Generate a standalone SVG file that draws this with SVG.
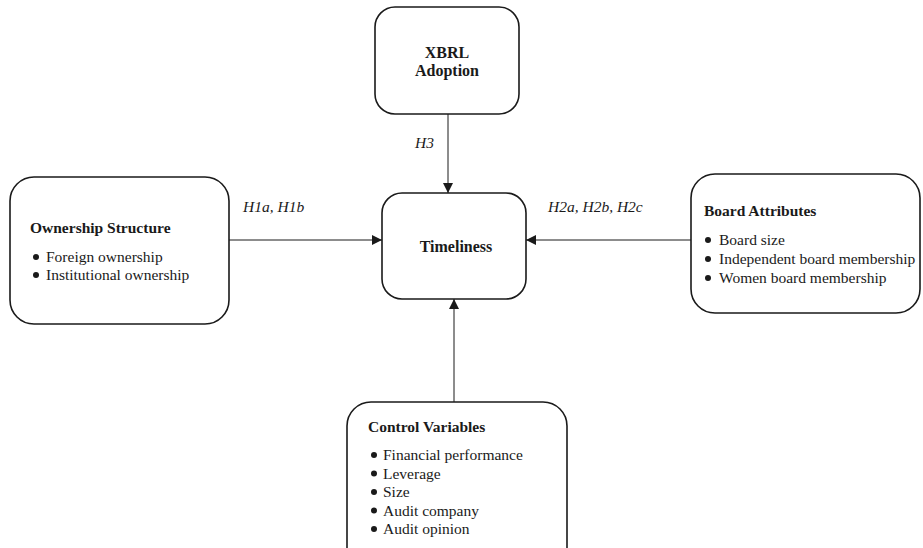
<svg xmlns="http://www.w3.org/2000/svg" width="923" height="548" viewBox="0 0 923 548">
<defs>
<marker id="arr" viewBox="0 0 10 10" refX="10" refY="5" markerWidth="10" markerHeight="10" markerUnits="userSpaceOnUse" orient="auto">
<path d="M0,0 L10,5 L0,10 z" fill="#1a1a1a"/>
</marker>
<style>
.box{fill:#fff;stroke:#1a1a1a;stroke-width:1.6}
.t{font-family:"Liberation Serif","Times New Roman",serif;fill:#1a1a1a}
.h{font-weight:bold;font-size:15.5px}
.ti{font-weight:bold;font-size:16px}
.i{font-size:15.5px}
.lab{font-style:italic;font-size:15.5px}
.con{stroke:#1a1a1a;stroke-width:1;fill:none;marker-end:url(#arr)}
.b{fill:#1a1a1a}
</style>
</defs>
<rect width="923" height="548" fill="#fff"/>
<g id="connectors">
<line class="con" x1="448" y1="114" x2="448" y2="193"/>
<line class="con" x1="229" y1="240" x2="382" y2="240"/>
<line class="con" x1="691" y1="240" x2="526" y2="240"/>
<line class="con" x1="454" y1="402" x2="454" y2="299"/>
<text class="t lab" x="415" y="148">H3</text>
<text class="t lab" x="243" y="212">H1a, H1b</text>
<text class="t lab" x="548" y="212">H2a, H2b, H2c</text>
</g>
<g id="xbrl">
<rect class="box" x="375" y="7" width="144" height="107" rx="20"/>
<text class="t ti" x="447" y="58" text-anchor="middle">XBRL</text>
<text class="t ti" x="447" y="76" text-anchor="middle">Adoption</text>
</g>
<g id="timeliness">
<rect class="box" x="382" y="193" width="144" height="106" rx="20"/>
<text class="t ti" x="456" y="252" text-anchor="middle">Timeliness</text>
</g>
<g id="ownership">
<rect class="box" x="10" y="177" width="219" height="147" rx="24"/>
<text class="t h" x="30" y="233">Ownership Structure</text>
<circle class="b" cx="36" cy="257" r="3"/>
<text class="t i" x="46" y="262">Foreign ownership</text>
<circle class="b" cx="36" cy="275" r="3"/>
<text class="t i" x="46" y="280">Institutional ownership</text>
</g>
<g id="board">
<rect class="box" x="691" y="174" width="229" height="139" rx="24"/>
<text class="t h" x="704" y="216">Board Attributes</text>
<circle class="b" cx="708" cy="240" r="3"/>
<text class="t i" x="719" y="245">Board size</text>
<circle class="b" cx="708" cy="259" r="3"/>
<text class="t i" x="719" y="264">Independent board membership</text>
<circle class="b" cx="708" cy="278" r="3"/>
<text class="t i" x="719" y="283">Women board membership</text>
</g>
<g id="control">
<rect class="box" x="347" y="402" width="220" height="170" rx="24"/>
<text class="t h" x="368" y="432">Control Variables</text>
<circle class="b" cx="374" cy="455" r="3"/>
<text class="t i" x="383" y="460">Financial performance</text>
<circle class="b" cx="374" cy="473.5" r="3"/>
<text class="t i" x="383" y="478.5">Leverage</text>
<circle class="b" cx="374" cy="492" r="3"/>
<text class="t i" x="383" y="497">Size</text>
<circle class="b" cx="374" cy="510.5" r="3"/>
<text class="t i" x="383" y="515.5">Audit company</text>
<circle class="b" cx="374" cy="529" r="3"/>
<text class="t i" x="383" y="534">Audit opinion</text>
</g>
</svg>
